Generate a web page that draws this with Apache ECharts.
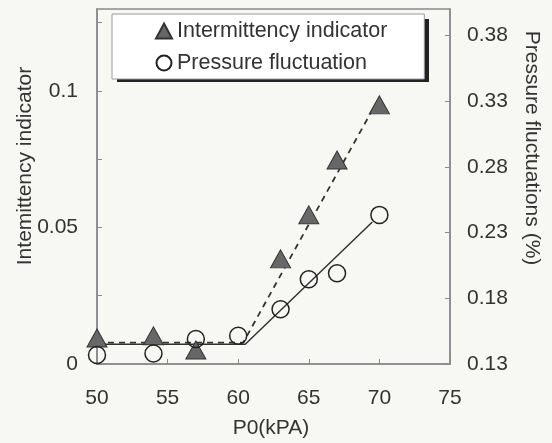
<!DOCTYPE html>
<html>
<head>
<meta charset="utf-8">
<script src="https://cdn.jsdelivr.net/npm/echarts@6/dist/echarts.min.js"></script>
<style>html,body{margin:0;padding:0;background:#f7f7f3;}#c{width:552px;height:443px;}</style>
</head>
<body>
<div id="c"></div>
<script>
// ---- data ----
var intermX = [50, 54, 57, 63, 65, 67, 70];
var intermY = [0.0095, 0.0103, 0.0051, 0.0385, 0.0546, 0.0747, 0.0949];
var pressX = [50, 54, 57, 60, 63, 65, 67, 70];
var pressY = [0.1368, 0.138, 0.149, 0.1515, 0.1716, 0.1945, 0.199, 0.2434];
// fit lines
var intermFitX = [50, 60.35, 69.5];
var intermFitY = [0.0078, 0.0078, 0.093];
var pressFitX = [50, 60.5, 69.5];
var pressFitY = [0.145, 0.145, 0.238];
// ticks
var xTicks = [50, 55, 60, 65, 70, 75];
var leftTicks = [0, 0.025, 0.05, 0.075, 0.1, 0.125];
var leftLabels = [0, 0.05, 0.1];
var rightTicks = [0.13, 0.18, 0.23, 0.28, 0.33, 0.38];

function pairs(xs, ys) { return xs.map(function (x, i) { return [x, ys[i]]; }); }

var FONT = '"Liberation Sans", Arial, sans-serif';
var TXT = '#333';
var AX = '#8a8a8a';

var chart = echarts.init(document.getElementById('c'));
chart.setOption({
  backgroundColor: '#f7f7f3',
  animation: false,
  grid: { left: 97, right: 102, top: 9, bottom: 79, show: true, borderColor: AX, borderWidth: 1.5 },
  xAxis: {
    type: 'value', min: 50, max: 75, interval: 5,
    axisLine: { lineStyle: { color: AX, width: 1.5 } },
    axisTick: { inside: true, length: 5, lineStyle: { color: AX } },
    axisLabel: { fontFamily: FONT, fontSize: 21, color: TXT, margin: 24,
      formatter: function (v) { return xTicks.indexOf(v) >= 0 ? String(v) : ''; } },
    splitLine: { show: false }
  },
  yAxis: [{
    type: 'value', min: 0, max: 0.13,
    axisLine: { show: true, lineStyle: { color: AX, width: 1.5 } },
    axisTick: { inside: true, length: 5, customValues: leftTicks, lineStyle: { color: AX } },
    axisLabel: { fontFamily: FONT, fontSize: 21, color: TXT, margin: 19, customValues: leftLabels,
      formatter: function (v) { return String(v); } },
    splitLine: { show: false }
  }, {
    type: 'value', min: 0.13, max: 0.40, position: 'right',
    axisLine: { show: true, lineStyle: { color: AX, width: 1.5 } },
    axisTick: { inside: true, length: 5, customValues: rightTicks, lineStyle: { color: AX } },
    axisLabel: { fontFamily: FONT, fontSize: 21, color: TXT, margin: 17, customValues: rightTicks,
      formatter: function (v) { return v.toFixed(2); } },
    splitLine: { show: false }
  }],
  legend: {
    data: ['Intermittency indicator', 'Pressure fluctuation'],
    orient: 'vertical', left: 112, top: 14,
    padding: [6, 37, 5, 43], itemGap: 10,
    itemWidth: 16, itemHeight: 15,
    backgroundColor: '#ffffff', borderColor: '#9a9a9a', borderWidth: 1,
    textStyle: { fontFamily: FONT, fontSize: 21.5, color: TXT }
  },
  graphic: [
    { type: 'rect', z: 1, shape: { x: 117, y: 19, width: 312, height: 63 }, style: { fill: '#222' } },
    { type: 'text', rotation: Math.PI / 2, x: 25, y: 166,
      style: { text: 'Intemittency indicator', font: '21px ' + FONT, fill: TXT, align: 'center', verticalAlign: 'middle' } },
    { type: 'text', rotation: -Math.PI / 2, x: 532, y: 148,
      style: { text: 'Pressure fluctuations (%)', font: '21px ' + FONT, fill: TXT, align: 'center', verticalAlign: 'middle' } },
    { type: 'text', x: 271, y: 428,
      style: { text: 'P0(kPA)', font: '21px ' + FONT, fill: TXT, align: 'center', verticalAlign: 'middle' } }
  ],
  series: [{
    name: 'Intermittency dashed fit', type: 'line', yAxisIndex: 0, symbol: 'none',
    data: pairs(intermFitX, intermFitY), z: 2,
    lineStyle: { color: '#333', width: 1.8, type: [6, 5] }
  }, {
    name: 'Pressure solid fit', type: 'line', yAxisIndex: 1, symbol: 'none',
    data: pairs(pressFitX, pressFitY), z: 2,
    lineStyle: { color: '#333', width: 1.5 }
  }, {
    name: 'Intermittency indicator', type: 'scatter', yAxisIndex: 0,
    symbol: 'triangle', symbolSize: [20, 18], data: pairs(intermX, intermY), z: 3,
    itemStyle: { color: '#676767', borderColor: '#333', borderWidth: 1, opacity: 1 }
  }, {
    name: 'Pressure fluctuation', type: 'scatter', yAxisIndex: 1,
    symbol: 'circle', symbolSize: 17, data: pairs(pressX, pressY), z: 3,
    itemStyle: { color: 'rgba(255,255,255,0)', borderColor: '#222', borderWidth: 1.5, opacity: 1 }
  }]
});
</script>
</body>
</html>
